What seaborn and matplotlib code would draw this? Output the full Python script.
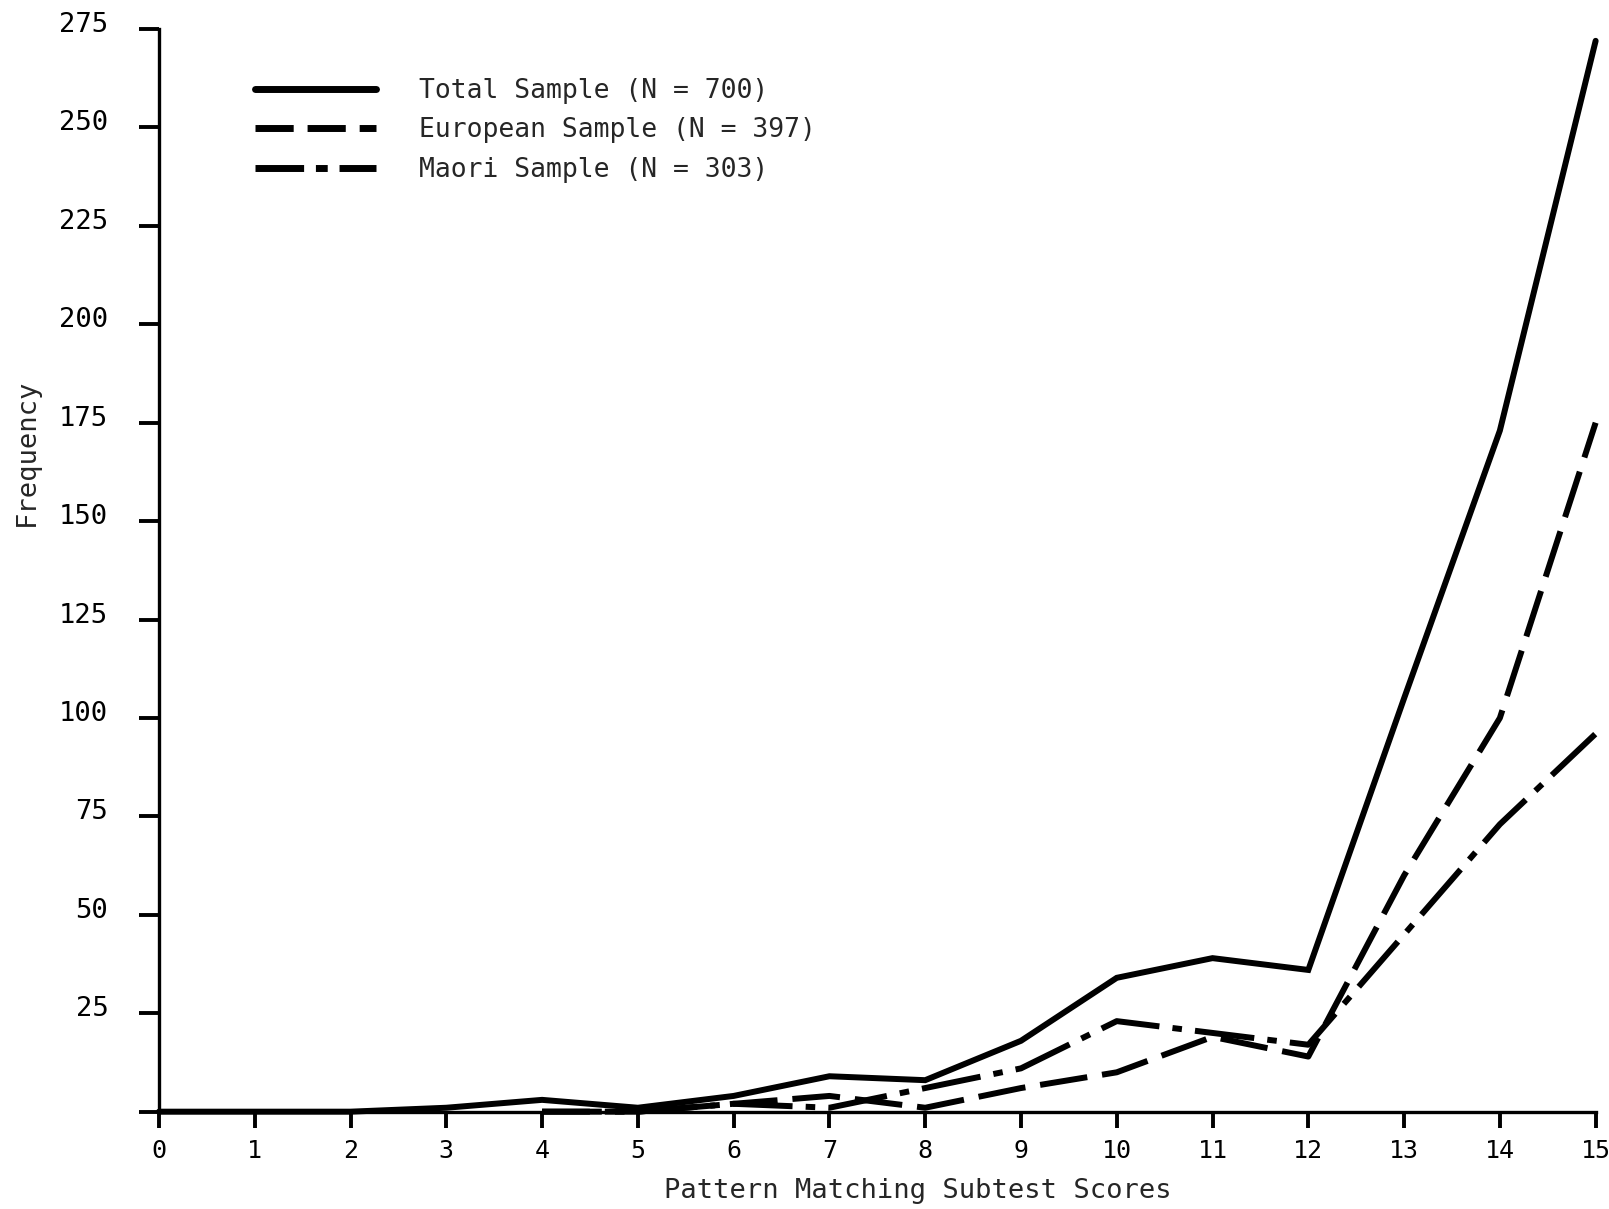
import numpy as np
import pandas as pd
import matplotlib
matplotlib.use("Agg")
import matplotlib.pyplot as plt
from matplotlib.lines import Line2D
from matplotlib.transforms import ScaledTranslation
import seaborn as sns

# Frequency of each Pattern Matching subtest score
scores = list(range(16))
total = [0, 0, 0, 1, 3, 1, 4, 9, 8, 18, 34, 39, 36, 105, 173, 272]
european = [np.nan, np.nan, np.nan, np.nan, 0, 0, 2, 4, 1, 6, 10, 19, 14, 60, 100, 175]
maori = [np.nan, np.nan, np.nan, np.nan, 0, 0, 2, 1, 6, 11, 23, 20, 17, 45, 73, 96]

series_names = ["Total Sample (N = 700)", "European Sample (N = 397)", "Maori Sample (N = 303)"]
series_values = [total, european, maori]

y_ticks = list(range(0, 276, 25))
x_ticks = list(range(0, 16))

frames = []
for name, vals in zip(series_names, series_values):
    frames.append(pd.DataFrame({"Score": scores, "Frequency": vals, "Sample": name}))
df = pd.concat(frames).dropna()

sns.set_style("ticks")
plt.rcParams["font.family"] = ["DejaVu Sans Mono", "DejaVu Sans"]

fig = plt.figure(figsize=(16.09, 12.09), dpi=100)
ax = fig.add_axes([0.0988, 0.0805, 0.9917 - 0.0988, 0.976 - 0.0805])

line_styles = {
    series_names[0]: "-",
    series_names[1]: (0, (8, 2.5)),
    series_names[2]: (0, (10, 2.2, 1.6, 2.2)),
}

for name in series_names:
    sub = df[df["Sample"] == name]
    sns.lineplot(data=sub, x="Score", y="Frequency", color="black", linewidth=4.3,
                 linestyle=line_styles[name], errorbar=None, ax=ax,
                 clip_on=False, solid_joinstyle="miter", dash_capstyle="butt")

ax.set_xlim(0, 15)
ax.set_ylim(0, 275)
ax.set_xticks(x_ticks)
ax.set_yticks(y_ticks)
ax.set_xticklabels([str(v) for v in x_ticks], fontsize=18)
ax.set_yticklabels(["" if v == 0 else str(v) for v in y_ticks], fontsize=19.5)
ax.set_xlabel("")
ax.set_ylabel("")

for side in ["top", "right"]:
    ax.spines[side].set_visible(False)
for side in ["left", "bottom"]:
    ax.spines[side].set_linewidth(2.4)
    ax.spines[side].set_color("black")

ax.tick_params(axis="y", length=14.5, width=2.8, pad=22, colors="black")
ax.tick_params(axis="x", length=11.5, width=2.8, pad=8, colors="black")

# the value labels sit a little above their tick marks
for lab in ax.get_yticklabels():
    lab.set_transform(lab.get_transform() + ScaledTranslation(0, 0.07, fig.dpi_scale_trans))

fig.text(0.0168, 0.626, "Frequency", rotation=90, ha="center", va="center", fontsize=19.5)
fig.text(0.5705, 0.0149, "Pattern Matching Subtest Scores", ha="center", va="center", fontsize=19.5)

handles = [
    Line2D([], [], color="black", linewidth=5, linestyle="-"),
    Line2D([], [], color="black", linewidth=5, linestyle=(0, (5.5, 2))),
    Line2D([], [], color="black", linewidth=5, linestyle=(0, (7, 1.7, 1.7, 1.7))),
]
leg = ax.legend(handles, series_names, loc="upper left", bbox_to_anchor=(255 / 1609, 1 - 78 / 1209),
                bbox_transform=fig.transFigure, frameon=False, fontsize=19,
                handlelength=4.6, handletextpad=1.62, labelspacing=0.51, borderpad=0, borderaxespad=0)

fig.savefig("out.png", dpi=100, facecolor="white")
